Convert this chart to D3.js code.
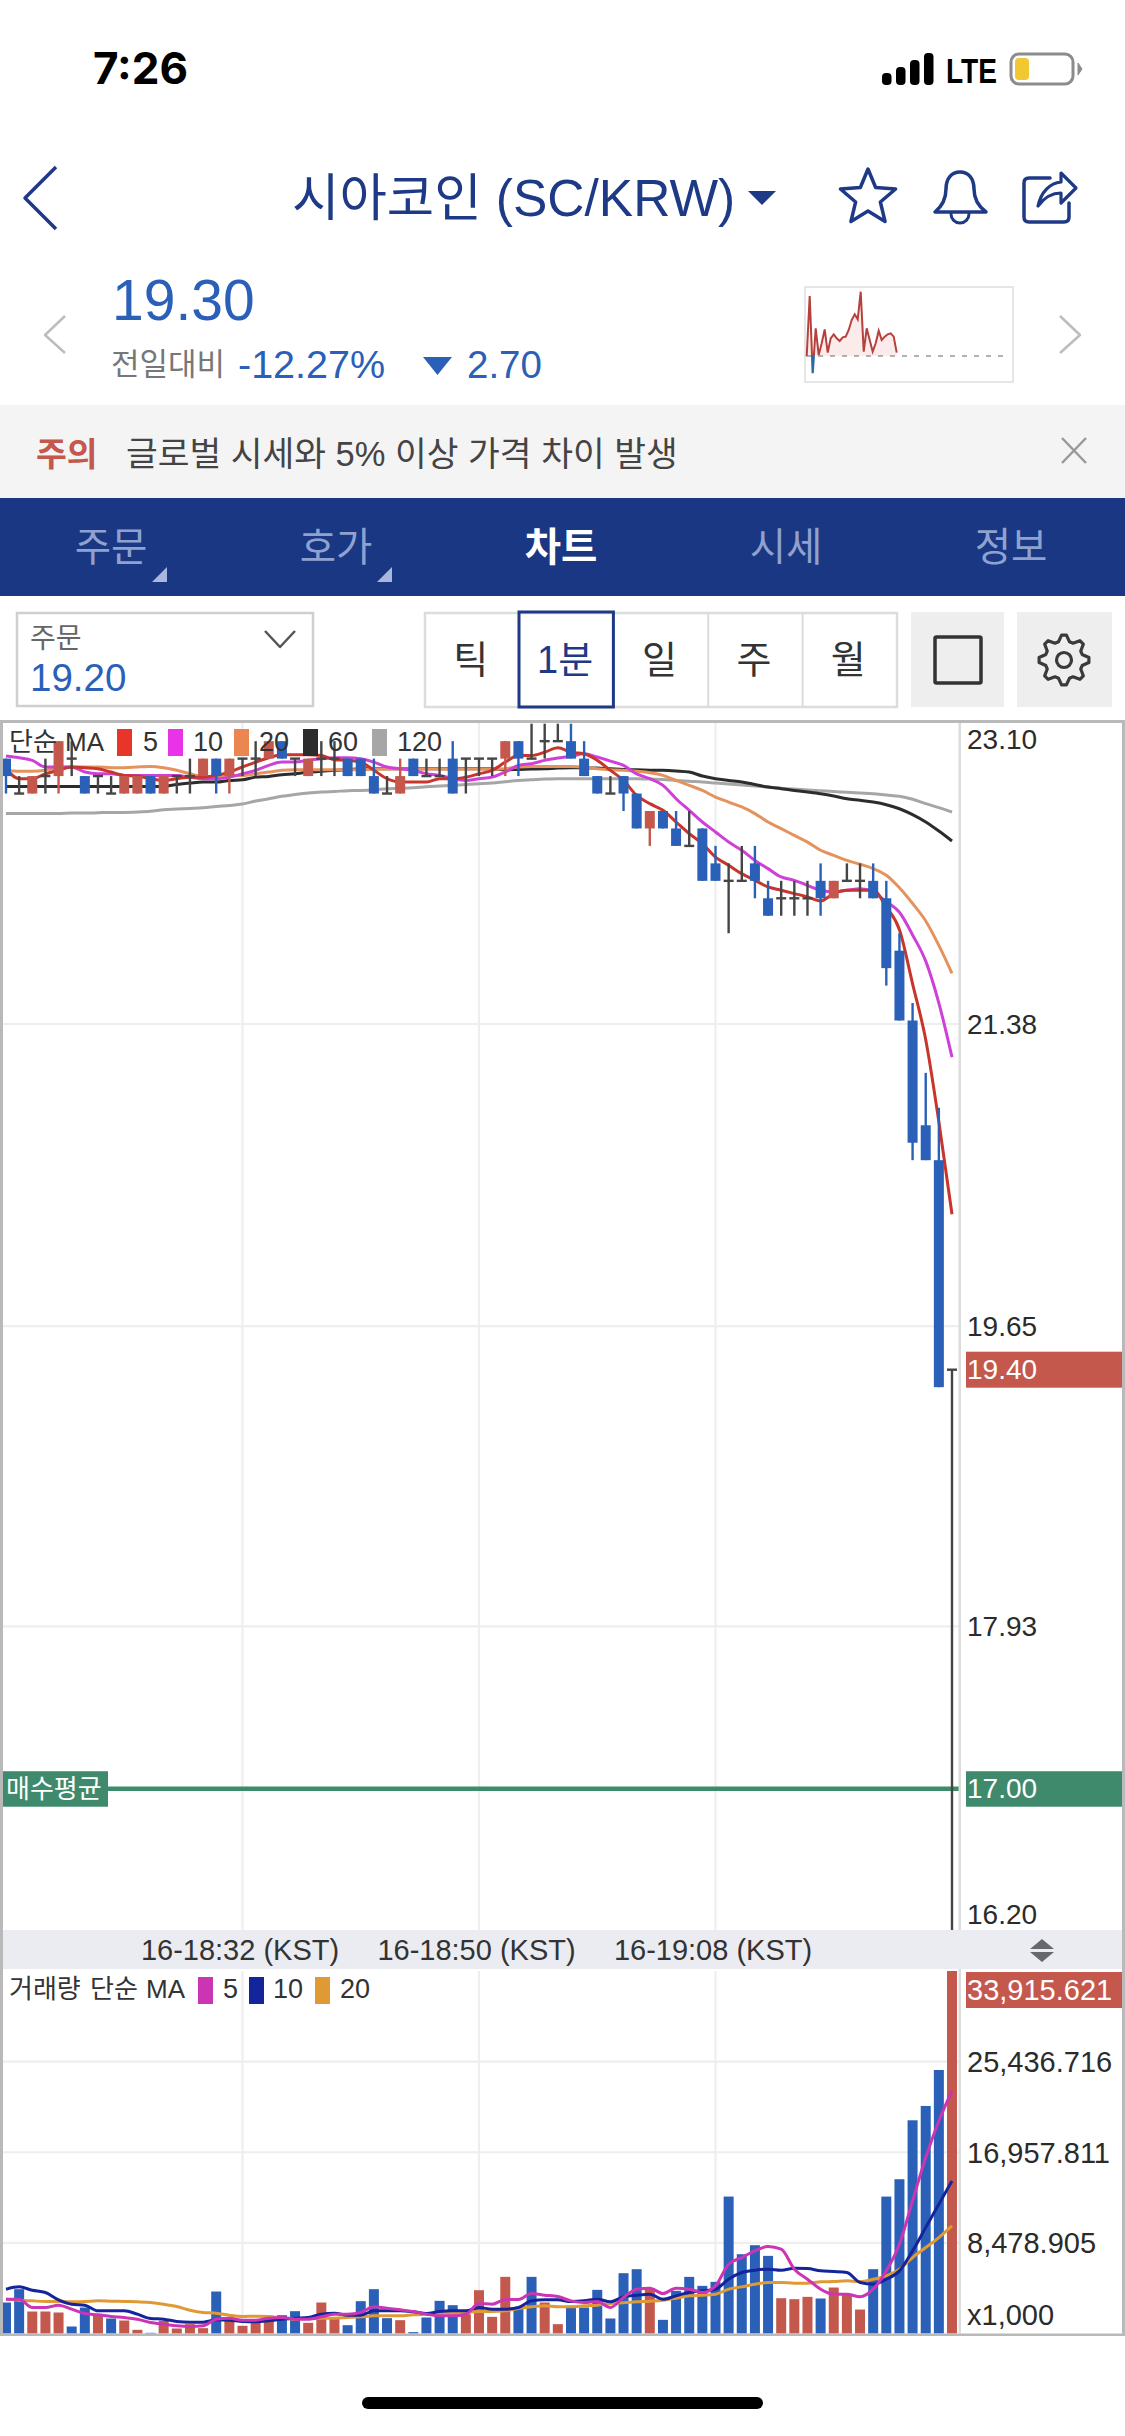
<!DOCTYPE html>
<html lang="ko">
<head>
<meta charset="utf-8">
<title>SC/KRW</title>
<script src="https://cdn.jsdelivr.net/npm/d3@7"></script>
<style>
  html, body { margin: 0; padding: 0; background: #fff; }
  svg { display: block; font-family: "Liberation Sans", "Noto Sans CJK KR", sans-serif; }
</style>
</head>
<body>
<div id="chart"></div>
<script>
// candles (tick size 0.1)
const opens = [22.9,22.7,22.7,22.8,22.8,22.9,22.8,22.8,22.7,22.7,22.7,22.8,22.7,22.8,22.8,22.8,22.9,22.8,22.9,22.9,22.9,23.0,22.9,22.8,22.9,22.9,22.9,22.9,22.8,22.7,22.7,22.9,22.8,22.8,22.9,22.9,22.9,22.9,22.9,23.0,22.9,23.0,23.0,23.0,22.9,22.8,22.7,22.8,22.7,22.5,22.6,22.5,22.4,22.5,22.3,22.2,22.2,22.3,22.1,22.1,22.1,22.1,22.2,22.1,22.2,22.2,22.2,22.1,21.8,21.4,20.8,20.6,19.4];
const closes = [22.8,22.7,22.8,22.8,23.0,22.9,22.7,22.8,22.7,22.8,22.8,22.7,22.8,22.8,22.8,22.9,22.8,22.9,22.9,22.9,23.0,22.9,22.9,22.9,22.9,22.9,22.8,22.8,22.7,22.7,22.8,22.8,22.8,22.8,22.7,22.9,22.9,22.9,23.0,22.9,22.9,23.0,23.0,22.9,22.8,22.7,22.7,22.7,22.5,22.6,22.5,22.4,22.4,22.2,22.2,22.2,22.2,22.2,22.0,22.1,22.1,22.1,22.1,22.2,22.2,22.2,22.1,21.7,21.4,20.7,20.6,19.3,19.4];
const highs = [22.9,22.8,22.8,22.9,23.0,23.0,22.8,22.8,22.8,22.8,22.8,22.8,22.8,22.8,22.9,22.9,22.9,22.9,22.9,23.0,23.0,23.0,22.9,22.9,23.0,23.0,22.9,22.9,22.9,22.8,22.9,22.9,22.9,22.9,23.0,22.9,22.9,22.9,23.0,23.0,23.1,23.1,23.1,23.1,23.0,22.8,22.8,22.8,22.7,22.6,22.6,22.6,22.6,22.5,22.4,22.3,22.4,22.4,22.2,22.2,22.2,22.2,22.3,22.2,22.3,22.3,22.3,22.2,21.9,21.5,21.1,20.9,19.4];
const lows = [22.7,22.7,22.7,22.7,22.7,22.8,22.7,22.7,22.7,22.7,22.7,22.7,22.7,22.7,22.7,22.8,22.7,22.7,22.8,22.8,22.9,22.9,22.8,22.8,22.8,22.8,22.8,22.8,22.7,22.7,22.7,22.8,22.8,22.8,22.7,22.7,22.8,22.8,22.8,22.8,22.9,22.9,23.0,22.9,22.8,22.7,22.7,22.6,22.5,22.4,22.5,22.4,22.4,22.2,22.2,21.9,22.2,22.1,22.0,22.0,22.0,22.0,22.0,22.1,22.2,22.1,22.1,21.6,21.4,20.6,20.6,19.3,16.2];

const ma5 = [22.842,22.785,22.785,22.813,22.833,22.852,22.848,22.842,22.823,22.804,22.800,22.785,22.775,22.785,22.794,22.794,22.804,22.823,22.852,22.880,22.905,22.922,22.922,22.922,22.918,22.894,22.890,22.880,22.833,22.785,22.766,22.766,22.766,22.785,22.785,22.794,22.813,22.833,22.880,22.918,22.918,22.937,22.962,22.937,22.928,22.890,22.833,22.775,22.689,22.642,22.604,22.537,22.470,22.413,22.336,22.289,22.241,22.203,22.165,22.146,22.127,22.108,22.085,22.127,22.146,22.146,22.146,22.05,21.92,21.61,21.29,20.82,20.29];
const ma10 = [22.915,22.905,22.890,22.852,22.852,22.852,22.823,22.813,22.813,22.804,22.804,22.804,22.804,22.804,22.794,22.785,22.785,22.794,22.813,22.833,22.861,22.880,22.880,22.890,22.899,22.905,22.905,22.899,22.880,22.852,22.842,22.833,22.813,22.804,22.785,22.775,22.785,22.794,22.823,22.861,22.871,22.890,22.903,22.913,22.928,22.909,22.886,22.861,22.813,22.785,22.747,22.670,22.604,22.537,22.480,22.422,22.375,22.317,22.270,22.222,22.203,22.174,22.146,22.136,22.146,22.155,22.136,22.08,22.02,21.89,21.74,21.50,21.19];
const ma20 = [22.833,22.827,22.827,22.833,22.848,22.852,22.852,22.852,22.848,22.848,22.852,22.855,22.848,22.833,22.813,22.798,22.798,22.804,22.804,22.813,22.823,22.833,22.836,22.836,22.836,22.836,22.836,22.836,22.840,22.840,22.840,22.840,22.840,22.840,22.840,22.840,22.840,22.840,22.842,22.852,22.855,22.855,22.855,22.855,22.852,22.842,22.836,22.833,22.827,22.819,22.804,22.775,22.747,22.718,22.680,22.651,22.623,22.585,22.537,22.499,22.460,22.422,22.375,22.346,22.317,22.295,22.270,22.232,22.16,22.07,21.97,21.83,21.67];
const ma60 = [22.741,22.741,22.741,22.741,22.741,22.741,22.741,22.741,22.741,22.741,22.741,22.741,22.741,22.752,22.760,22.766,22.766,22.775,22.779,22.794,22.798,22.808,22.813,22.823,22.827,22.833,22.836,22.842,22.842,22.842,22.842,22.842,22.842,22.842,22.842,22.842,22.842,22.842,22.836,22.838,22.840,22.842,22.846,22.848,22.848,22.846,22.842,22.838,22.836,22.834,22.833,22.829,22.823,22.800,22.785,22.775,22.766,22.752,22.737,22.728,22.718,22.709,22.699,22.686,22.670,22.661,22.651,22.636,22.613,22.579,22.537,22.485,22.428];
const ma120 = [22.585,22.585,22.585,22.586,22.586,22.588,22.588,22.590,22.592,22.592,22.594,22.598,22.607,22.611,22.615,22.619,22.626,22.632,22.640,22.657,22.670,22.684,22.695,22.703,22.709,22.712,22.716,22.718,22.722,22.728,22.730,22.733,22.739,22.743,22.747,22.752,22.756,22.760,22.768,22.775,22.779,22.783,22.785,22.785,22.785,22.785,22.785,22.785,22.785,22.783,22.781,22.775,22.770,22.766,22.760,22.754,22.749,22.743,22.737,22.730,22.726,22.720,22.716,22.712,22.707,22.703,22.699,22.691,22.684,22.667,22.642,22.619,22.594];

const volumes = [2899,4146,2057,2057,1964,655,2431,1808,1403,1216,343,62,1184,468,873,499,3927,1340,717,1029,1652,1714,2088,997,2899,1496,779,3023,4146,1434,1247,125,1496,3055,2649,1808,4052,1558,5299,2431,5299,2899,873,2587,2431,4083,1403,5642,6016,4146,1278,3990,5299,4457,4831,12811,7418,8260,7263,3304,3211,3429,3273,4301,3678,2244,6016,12811,14432,19949,21289,24655,33915.621];
const volumeUp = [0,0,1,1,1,0,0,1,0,1,1,0,1,1,1,1,0,1,1,1,1,0,0,1,1,1,0,0,0,0,1,0,0,0,0,1,1,1,1,0,0,1,1,0,0,0,0,0,0,1,0,0,0,0,0,0,0,0,0,1,1,1,0,1,1,1,0,0,0,0,0,0,1];
const volMa5 = [3211,3211,2431,2431,2649,2275,1870,1746,1590,1496,1340,1029,873,717,655,717,1340,1434,1247,1247,1434,1496,1340,1340,1558,1808,1808,1964,2494,2369,2213,2057,1808,1652,1652,1808,2805,2743,3179,3179,3740,3585,3460,3055,2899,2992,2431,3366,4146,4239,3740,4239,4146,3834,4457,6483,7107,7730,8135,7886,6016,5081,4146,3678,3678,3429,4146,5860,8354,12406,16458,19886,22692];
const volMa10 = [4146,4364,4052,3834,3148,2743,2649,2120,2120,2120,1808,1403,1340,1122,1060,1060,1278,1247,1122,1091,1184,1340,1434,1496,1808,1901,1714,1714,2120,2120,2120,2026,1870,2057,2120,2120,2431,2275,2275,2431,3055,3148,3148,2992,3055,3211,2961,3429,3585,3678,3211,3522,3834,3990,4146,5081,5704,5922,6016,5922,6109,6078,5860,5798,5704,4769,4613,5081,5860,7730,9912,12094,14276];
const volMa20 = [3211,3117,3055,2992,2992,2961,2992,3055,3023,2992,2961,2899,2743,2525,2182,1964,1901,1714,1590,1621,1590,1434,1340,1403,1434,1434,1496,1558,1652,1652,1652,1746,1808,1870,1870,1964,2057,2057,2120,2338,2494,2587,2494,2494,2587,2649,2805,2868,2961,3023,3117,3304,3522,3585,3678,4146,4364,4613,4769,4769,4707,4707,4831,4863,4925,4863,5081,5392,6016,7107,8042,8977,10068];

const priceTicks = [23.10, 21.38, 19.65, 17.93, 16.20];
const volumeTicks = [25436.716, 16957.811, 8478.905];
const timeTicks = [18, 36, 54];
const timeLabels = ["16-18:32 (KST)", "16-18:50 (KST)", "16-19:08 (KST)"];
const lastPrice = 19.40;
const buyAverage = 17.00;

const priceLegend = [["5", "#e7352a", 117, 143], ["10", "#e833e8", 168, 193], ["20", "#ec8650", 234, 259], ["60", "#2c2c2c", 303, 328], ["120", "#a6a6a6", 372, 397]];
const volumeLegend = [["5", "#cb35b3", 198, 223], ["10", "#14249a", 249, 273], ["20", "#e09a35", 315, 340]];

// sparkline in the header, change against the previous day
const sparkValues = [0,180,-52,83,3,38,80,10,53,65,53,45,56,58,78,108,125,110,193,13,83,48,13,38,76,48,58,65,68,58,10];

const tabs = ["주문", "호가", "차트", "시세", "정보"];
const periods = ["틱", "1분", "일", "주", "월"];

const width = 1125, height = 2436;
const navy = "#1e3a86", blue = "#2a60b8", red = "#c4584c", green = "#3f8a6c";

const svg = d3.select("#chart").append("svg").attr("width", width).attr("height", height);

function label(g, x, y, str, size, fill, opts) {
  opts = opts || {};
  return g.append("text")
    .attr("x", x).attr("y", y)
    .attr("dominant-baseline", "central")
    .attr("text-anchor", opts.anchor || "start")
    .attr("font-size", size)
    .attr("font-weight", opts.weight || 400)
    .attr("font-family", opts.family || null)
    .attr("fill", fill)
    .text(str);
}
function box(g, x0, y0, x1, y1, fill) {
  return g.append("rect").attr("x", x0).attr("y", y0).attr("width", x1 - x0).attr("height", y1 - y0).attr("fill", fill);
}
function outline(g, d, color, w) {
  return g.append("path").attr("d", d).attr("fill", "none").attr("stroke", color)
    .attr("stroke-width", w).attr("stroke-linejoin", "round").attr("stroke-linecap", "round");
}

renderHeader(svg.append("g"));
renderSpark(svg.append("g"));
renderChart(svg.append("g"));

function renderHeader(g) {
  // status bar
  label(g, 93, 68, "7:26", 44, "#000", { weight: 700, family: "Inter" });
  [[882, 73], [896, 67], [910, 60], [924, 53]].forEach(([x, top]) => {
    g.append("rect").attr("x", x).attr("y", top).attr("width", 9.5).attr("height", 85 - top).attr("rx", 4).attr("fill", "#000");
  });
  label(g, 946, 70, "LTE", 35, "#000", { weight: 700 }).attr("textLength", 51).attr("lengthAdjust", "spacingAndGlyphs");
  g.append("rect").attr("x", 1011).attr("y", 54).attr("width", 62).attr("height", 30).attr("rx", 8).attr("fill", "none").attr("stroke", "#8c8c8c").attr("stroke-width", 3);
  g.append("rect").attr("x", 1015).attr("y", 58).attr("width", 14).attr("height", 22).attr("rx", 4).attr("fill", "#f2c832");
  g.append("path").attr("d", "M1078 63 L1082 69 L1078 75 Z").attr("fill", "#8c8c8c").attr("stroke", "#8c8c8c");

  // title row
  outline(g, "M56 167 L25 198 L56 229", navy, 3.5).attr("stroke-linecap", "butt");
  label(g, 292, 198, "시아코인 (SC/KRW)", 51.5, navy);
  g.append("path").attr("d", "M748 191 H776 L762 205 Z").attr("fill", navy);
  const star = d3.range(10).map((i) => {
    const r = i % 2 ? 13 : 29, a = -Math.PI / 2 + i * Math.PI / 5;
    return [868 + r * Math.cos(a), 198 + r * Math.sin(a)];
  });
  outline(g, d3.line()(star) + "Z", navy, 3.5);
  outline(g, "M935 212 Q946 203 946 189 C946 178 952 172 960 172 C968 172 974 178 974 189 Q974 203 986 212 Z", navy, 3.5);
  outline(g, "M951 214 A9 9 0 0 0 969 214", navy, 3);
  outline(g, "M1050 178 H1029 Q1024 178 1024 183 V217 Q1024 222 1029 222 H1064 Q1069 222 1069 217 V203", navy, 3.5);
  outline(g, "M1038 206 C1041 192 1050 183 1061 182 V173 L1076 188 L1061 203 V193 C1051 193 1044 198 1038 206 Z", navy, 3.2);

  // price row
  outline(g, "M65 316 L45 335 L65 353", "#bdbdbd", 2.5).attr("stroke-linecap", "butt");
  outline(g, "M1060 316 L1080 335 L1060 353", "#bdbdbd", 2.5).attr("stroke-linecap", "butt");
  label(g, 112, 300, "19.30", 57, blue);
  label(g, 111, 364, "전일대비", 31, "#777");
  label(g, 238, 364, "-12.27%", 39.5, blue);
  g.append("path").attr("d", "M423 357 H452 L437.5 375 Z").attr("fill", blue);
  label(g, 467, 364, "2.70", 38.5, blue);

  // notice
  box(g, 0, 405, width, 498, "#f4f4f4");
  label(g, 36, 454, "주의", 33.5, red, { weight: 700 });
  label(g, 126, 454, "글로벌 시세와 5% 이상 가격 차이 발생", 34.5, "#444");
  outline(g, "M1062 438 L1086 463 M1086 438 L1062 463", "#999", 2.5).attr("stroke-linecap", "butt");

  // tabs
  box(g, 0, 498, width, 596, "#1a3783");
  tabs.forEach((t, i) => {
    const active = i === 2;
    label(g, 111 + i * 225, 547, t, 39.5, active ? "#fff" : "#8fa2cf", { anchor: "middle", weight: active ? 700 : 400 });
  });
  g.append("path").attr("d", "M167 567 V582 H152 Z").attr("fill", "#a8b8dc");
  g.append("path").attr("d", "M392 567 V582 H377 Z").attr("fill", "#a8b8dc");

  // order select
  g.append("rect").attr("x", 17).attr("y", 613).attr("width", 296).attr("height", 93).attr("fill", "#fff").attr("stroke", "#cfcfcf").attr("stroke-width", 2.5);
  label(g, 30, 638, "주문", 28, "#666");
  label(g, 30, 677, "19.20", 38.5, blue);
  outline(g, "M265 631 L280 647 L295 631", "#555", 2.5).attr("stroke-linecap", "butt");

  // period buttons
  const cell = (897 - 425) / periods.length;
  g.append("rect").attr("x", 425).attr("y", 613).attr("width", 472).attr("height", 94).attr("fill", "#fff").attr("stroke", "#dcdcdc").attr("stroke-width", 2.5);
  periods.forEach((p, i) => {
    if (i > 1) box(g, 425 + i * cell - 1, 613, 425 + i * cell + 1, 707, "#dcdcdc");
    label(g, 423.5 + (i + 0.5) * cell, 660, p, 38, i === 1 ? navy : "#333", { anchor: "middle" });
  });
  g.append("rect").attr("x", 519).attr("y", 612).attr("width", cell).attr("height", 95).attr("fill", "none").attr("stroke", navy).attr("stroke-width", 3);

  box(g, 911, 612, 1004, 707, "#eeeeee");
  box(g, 1017, 612, 1112, 707, "#eeeeee");
  g.append("rect").attr("x", 935).attr("y", 637).attr("width", 46).attr("height", 46).attr("rx", 1.5).attr("fill", "none").attr("stroke", "#333").attr("stroke-width", 3.5);
  const teeth = d3.range(32).map((i) => {
    const r = [19, 25, 25, 19][i % 4], a = (i - 1.5) * Math.PI / 16;
    return [1064 + r * Math.cos(a), 660 + r * Math.sin(a)];
  });
  outline(g, d3.line()(teeth) + "Z", "#3a3a3a", 3.2);
  g.append("circle").attr("cx", 1064).attr("cy", 660).attr("r", 7.5).attr("fill", "none").attr("stroke", "#3a3a3a").attr("stroke-width", 3.2);
}

function renderSpark(g) {
  g.append("rect").attr("x", 805).attr("y", 287).attr("width", 208).attr("height", 95).attr("fill", "#fff").attr("stroke", "#dedede").attr("stroke-width", 1.5);
  const sx = d3.scaleLinear().domain([0, sparkValues.length - 1]).range([806.7, 896.7]);
  const sy = d3.scaleLinear().domain([-52, 193]).range([373.3, 291.7]);
  const base = sy(0);
  const defs = g.append("defs");
  defs.append("clipPath").attr("id", "spark-up").append("rect").attr("x", 805).attr("y", 287).attr("width", 208).attr("height", base - 287);
  defs.append("clipPath").attr("id", "spark-down").append("rect").attr("x", 805).attr("y", base).attr("width", 208).attr("height", 382 - base);
  g.append("path").datum(sparkValues)
    .attr("clip-path", "url(#spark-up)")
    .attr("fill", "#fbeceb")
    .attr("d", d3.area().x((d, i) => sx(i)).y0(base).y1((d) => sy(d)));
  g.append("line").attr("x1", 806).attr("x2", 1004).attr("y1", base).attr("y2", base)
    .attr("stroke", "#999").attr("stroke-width", 1.5).attr("stroke-dasharray", "5 7");
  const line = d3.line().x((d, i) => sx(i)).y((d) => sy(d));
  g.append("path").datum(sparkValues).attr("clip-path", "url(#spark-up)").attr("fill", "none").attr("stroke", "#b5403c").attr("stroke-width", 2).attr("d", line);
  g.append("path").datum(sparkValues).attr("clip-path", "url(#spark-down)").attr("fill", "none").attr("stroke", "#2f6aa8").attr("stroke-width", 2.2).attr("d", line);
}

function renderChart(g) {
  const left = 3, right = 1122, plotRight = 960;
  const priceTop = 723, priceBottom = 1930, volTop = 1971, volBottom = 2333.5;

  const x = d3.scaleLinear().domain([0, opens.length - 1]).range([6, 952]);
  const y = d3.scaleLinear().domain([16.20, 23.10]).range([1928.4, 723.7]);
  const yVol = d3.scaleLinear().domain([0, 33915.621]).range([volBottom, volTop]);
  const bodyW = 10;

  // grid
  const grid = g.append("g").attr("stroke", "#eeeeee").attr("stroke-width", 2.2);
  grid.selectAll(".gx").data(timeTicks).join("path").attr("class", "gx")
    .attr("d", (d) => `M${x(d)} ${priceTop}V${priceBottom}M${x(d)} ${volTop}V${volBottom}`);
  grid.selectAll(".gy").data(priceTicks.slice(1, -1)).join("line").attr("class", "gy")
    .attr("x1", left).attr("x2", plotRight).attr("y1", (d) => y(d)).attr("y2", (d) => y(d));
  grid.selectAll(".gv").data(volumeTicks).join("line").attr("class", "gv")
    .attr("x1", left).attr("x2", plotRight).attr("y1", (d) => yVol(d)).attr("y2", (d) => yVol(d));

  // price moving averages sit under the candles
  const maLine = d3.line().x((d, i) => x(i)).y((d) => y(d)).curve(d3.curveMonotoneX);
  g.selectAll(".ma")
    .data([[ma120, "#a6a6a6"], [ma60, "#2c2c2c"], [ma20, "#e5935e"], [ma10, "#cf40d8"], [ma5, "#c8352c"]])
    .join("path").attr("class", "ma")
    .attr("fill", "none").attr("stroke", (d) => d[1]).attr("stroke-width", 3)
    .attr("d", (d) => maLine(d[0]));

  // buy average
  g.append("line").attr("x1", 108).attr("x2", plotRight).attr("y1", y(buyAverage)).attr("y2", y(buyAverage))
    .attr("stroke", green).attr("stroke-width", 4.5);

  // candles
  const candles = opens.map((o, i) => ({ i, o, c: closes[i], h: highs[i], l: lows[i] }));
  const candleColor = (d) => (d.c > d.o ? red : d.c < d.o ? blue : "#454545");
  const candle = g.selectAll(".candle").data(candles).join("g").attr("class", "candle");
  candle.append("line")
    .attr("x1", (d) => x(d.i)).attr("x2", (d) => x(d.i))
    .attr("y1", (d) => y(d.h)).attr("y2", (d) => (d.i === candles.length - 1 ? priceBottom : y(d.l)))
    .attr("stroke", candleColor).attr("stroke-width", 2.4);
  candle.filter((d) => d.c !== d.o).append("rect")
    .attr("x", (d) => x(d.i) - bodyW / 2).attr("width", bodyW)
    .attr("y", (d) => y(Math.max(d.o, d.c)))
    .attr("height", (d) => Math.abs(y(d.o) - y(d.c)))
    .attr("fill", candleColor);
  candle.filter((d) => d.c === d.o).append("line")
    .attr("x1", (d) => x(d.i) - bodyW / 2).attr("x2", (d) => x(d.i) + bodyW / 2)
    .attr("y1", (d) => y(d.c)).attr("y2", (d) => y(d.c))
    .attr("stroke", "#454545").attr("stroke-width", 2.4);

  // volume
  g.selectAll(".vol").data(volumes).join("rect").attr("class", "vol")
    .attr("x", (d, i) => x(i) - bodyW / 2).attr("width", bodyW)
    .attr("y", (d) => yVol(d)).attr("height", (d) => volBottom - yVol(d))
    .attr("fill", (d, i) => (volumeUp[i] ? red : blue));
  const volLine = d3.line().x((d, i) => x(i)).y((d) => yVol(d)).curve(d3.curveMonotoneX);
  g.selectAll(".vma")
    .data([[volMa20, "#e09a35"], [volMa10, "#14249a"], [volMa5, "#cb35b3"]])
    .join("path").attr("class", "vma")
    .attr("fill", "none").attr("stroke", (d) => d[1]).attr("stroke-width", 3)
    .attr("d", (d) => volLine(d[0]));

  // frame
  box(g, left, 1930, right, 1969, "#ebecf2");
  box(g, 958.5, priceTop, 961, 1930, "#dcdcdc");
  box(g, 958.5, 1969, 961, volBottom, "#dcdcdc");
  box(g, 0, 720, width, 723, "#b9b9b9");
  box(g, 0, 720, 3, 2336, "#b9b9b9");
  box(g, 1122, 720, 1125, 2336, "#b9b9b9");
  box(g, 0, 2333.5, width, 2336, "#b9b9b9");

  // axes
  const priceAxis = g.append("g").attr("transform", "translate(967,0)")
    .call(d3.axisRight(y).tickValues(priceTicks).tickSize(0).tickPadding(0).tickFormat(d3.format(".2f")));
  priceAxis.select(".domain").remove();
  priceAxis.selectAll("text")
    .attr("font-size", 28).attr("font-family", null).attr("fill", "#2b2b2b")
    .attr("dy", (d) => (d === 23.1 ? 15 : d === 16.2 ? -14 : 0))
    .attr("dominant-baseline", "central");

  const volAxis = g.append("g").attr("transform", "translate(967,0)")
    .call(d3.axisRight(yVol).tickValues(volumeTicks).tickSize(0).tickPadding(0).tickFormat(d3.format(",.3f")));
  volAxis.select(".domain").remove();
  volAxis.selectAll("text").attr("font-size", 29).attr("fill", "#2b2b2b").attr("dy", 0).attr("dominant-baseline", "central");
  label(g, 967, 2315, "x1,000", 29, "#2b2b2b");

  const timeAxis = g.append("g").attr("transform", "translate(0,1950)")
    .call(d3.axisBottom(x).tickValues(timeTicks).tickSize(0).tickPadding(0).tickFormat((d, i) => timeLabels[i]));
  timeAxis.select(".domain").remove();
  timeAxis.selectAll("text").attr("font-size", 29).attr("fill", "#333").attr("x", -3).attr("y", 0).attr("dy", 0).attr("dominant-baseline", "central");

  // sort handle
  g.append("path").attr("d", "M1042 1939 L1054 1949 H1030 Z M1042 1962 L1054 1952 H1030 Z").attr("fill", "#67686e");

  // value flags
  box(g, 966, y(lastPrice) - 18, right, y(lastPrice) + 18, red);
  label(g, 967, y(lastPrice), d3.format(".2f")(lastPrice), 28, "#fff");
  box(g, 966, y(buyAverage) - 17.5, right, y(buyAverage) + 18, green);
  label(g, 967, y(buyAverage), d3.format(".2f")(buyAverage), 28, "#fff");
  box(g, 3, y(buyAverage) - 17.5, 108, y(buyAverage) + 18, green);
  label(g, 6, y(buyAverage), "매수평균", 26, "#fff");
  box(g, 966, 1972, right, 2008, red);
  label(g, 967, 1990, d3.format(",.3f")(33915.621), 29, "#fff");

  // legends
  label(g, 9, 742, "단순", 26, "#333");
  label(g, 65, 742, "MA", 26, "#333");
  priceLegend.forEach(([name, color, bx, tx]) => {
    box(g, bx, 729, bx + 15, 756, color);
    label(g, tx, 742, name, 27, "#333");
  });
  label(g, 9, 1989, "거래량", 26, "#333");
  label(g, 90, 1989, "단순", 26, "#333");
  label(g, 146, 1989, "MA", 26, "#333");
  volumeLegend.forEach(([name, color, bx, tx]) => {
    box(g, bx, 1977, bx + 15, 2004, color);
    label(g, tx, 1989, name, 27, "#333");
  });

  // home indicator
  g.append("rect").attr("x", 362).attr("y", 2397).attr("width", 401).attr("height", 12).attr("rx", 6).attr("fill", "#000");
}
</script>
</body>
</html>
